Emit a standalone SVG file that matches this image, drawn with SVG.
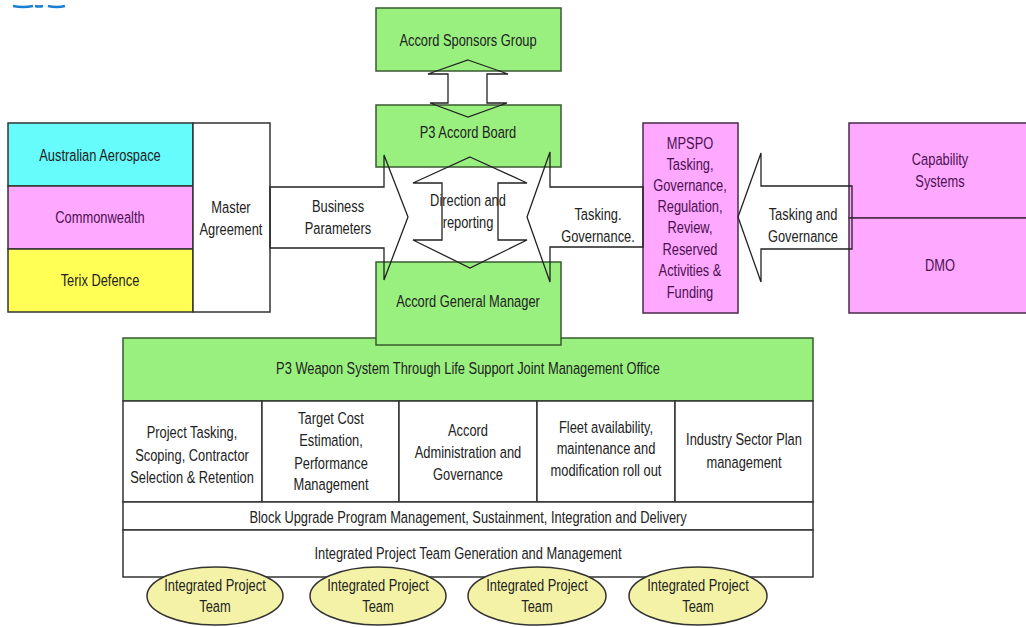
<svg xmlns="http://www.w3.org/2000/svg" width="1026" height="627" viewBox="0 0 1026 627">
<style>
.t{font-family:"Liberation Sans",Arial,sans-serif;font-size:16.5px;fill:#222;text-anchor:middle;transform-box:fill-box;transform-origin:center;transform:scaleX(0.78)}
.g{fill:#99f07f;stroke:#3a5a30;stroke-width:1.5}
.w{fill:#fff;stroke:#333;stroke-width:1.5}
.p{fill:#ffa8ff;stroke:#4a2a4a;stroke-width:1.5}
.pt{fill:#4a1050}
.ar{fill:none;stroke:#222;stroke-width:1.3;stroke-linejoin:miter}
.e{fill:#f4f2a6;stroke:#333;stroke-width:1.5}
</style>
<rect width="1026" height="627" fill="#fff"/>
<path d="M13 6 Q23 8 33 6 M35 6 Q39 7 43 6 M48 6 Q57 8 65 6" fill="none" stroke="#1a7fd0" stroke-width="2.5"/>

<g id="sponsors"><rect class="g" x="376" y="8" width="185" height="63"/><text class="t" x="468" y="46">Accord Sponsors Group</text></g>
<g id="board"><rect class="g" x="376" y="105" width="185" height="62"/><text class="t" x="468" y="138">P3 Accord Board</text></g>

<g id="australian"><rect x="8" y="123" width="185" height="63" fill="#66fcfc" stroke="#333" stroke-width="1.5"/><text class="t" x="100" y="161" fill="#1a3040">Australian Aerospace</text></g>
<g id="commonwealth"><rect x="8" y="186" width="185" height="63" fill="#ffa8ff" stroke="#333" stroke-width="1.5"/><text class="t pt" x="100" y="223">Commonwealth</text></g>
<g id="terix"><rect x="8" y="249" width="185" height="63" fill="#ffff55" stroke="#333" stroke-width="1.5"/><text class="t" x="100" y="286">Terix Defence</text></g>
<g id="master"><rect class="w" x="193" y="123" width="77" height="189"/><text class="t" x="231" y="213">Master</text><text class="t" x="231" y="235">Agreement</text></g>

<g id="mpspo"><rect class="p" x="643" y="123" width="95" height="190"/>
<text class="t pt" x="690" y="149">MPSPO</text><text class="t pt" x="690" y="170">Tasking,</text><text class="t pt" x="690" y="191">Governance,</text><text class="t pt" x="690" y="212">Regulation,</text><text class="t pt" x="690" y="233">Review,</text><text class="t pt" x="690" y="255">Reserved</text><text class="t pt" x="690" y="276">Activities &amp;</text><text class="t pt" x="690" y="298">Funding</text></g>
<g id="capability"><rect class="p" x="849" y="123" width="180" height="95"/><text class="t pt" x="940" y="165">Capability</text><text class="t pt" x="940" y="187">Systems</text></g>
<g id="dmo"><rect class="p" x="849" y="218" width="180" height="95"/><text class="t pt" x="940" y="271">DMO</text></g>

<g id="jmo"><rect class="g" x="123" y="338" width="690" height="63"/><text class="t" x="468" y="374">P3 Weapon System Through Life Support Joint Management Office</text></g>
<g id="gm"><rect class="g" x="376" y="262" width="185" height="83"/><text class="t" x="468" y="307">Accord General Manager</text></g>

<g id="cell1"><rect class="w" x="123" y="401" width="139" height="101"/><text class="t" x="192" y="438">Project Tasking,</text><text class="t" x="192" y="461">Scoping, Contractor</text><text class="t" x="192" y="483">Selection &amp; Retention</text></g>
<g id="cell2"><rect class="w" x="262" y="401" width="137" height="101"/><text class="t" x="331" y="424">Target Cost</text><text class="t" x="331" y="446">Estimation,</text><text class="t" x="331" y="469">Performance</text><text class="t" x="331" y="490">Management</text></g>
<g id="cell3"><rect class="w" x="399" y="401" width="138" height="101"/><text class="t" x="468" y="436">Accord</text><text class="t" x="468" y="458">Administration and</text><text class="t" x="468" y="480">Governance</text></g>
<g id="cell4"><rect class="w" x="537" y="401" width="138" height="101"/><text class="t" x="606" y="433">Fleet availability,</text><text class="t" x="606" y="454">maintenance and</text><text class="t" x="606" y="476">modification roll out</text></g>
<g id="cell5"><rect class="w" x="675" y="401" width="138" height="101"/><text class="t" x="744" y="445">Industry Sector Plan</text><text class="t" x="744" y="468">management</text></g>
<g id="block"><rect class="w" x="123" y="502" width="690" height="28"/><text class="t" x="468" y="523">Block Upgrade Program Management, Sustainment, Integration and Delivery</text></g>
<g id="iptgen"><rect class="w" x="123" y="530" width="690" height="47"/><text class="t" x="468" y="559">Integrated Project Team Generation and Management</text></g>

<g id="ipt1"><ellipse class="e" cx="215" cy="596" rx="68" ry="29"/><text class="t" x="215" y="591">Integrated Project</text><text class="t" x="215" y="612">Team</text></g>
<g id="ipt2"><ellipse class="e" cx="378" cy="596" rx="68" ry="29"/><text class="t" x="378" y="591">Integrated Project</text><text class="t" x="378" y="612">Team</text></g>
<g id="ipt3"><ellipse class="e" cx="537" cy="596" rx="69" ry="29"/><text class="t" x="537" y="591">Integrated Project</text><text class="t" x="537" y="612">Team</text></g>
<g id="ipt4"><ellipse class="e" cx="698" cy="596" rx="69" ry="29"/><text class="t" x="698" y="591">Integrated Project</text><text class="t" x="698" y="612">Team</text></g>

<g id="connectors">
<polygon class="ar" points="468,60 508,74 487,74 487,103 507,103 468,117 430,103 448,103 448,74 428,74"/>
<polygon class="ar" points="470,157 527,183 498,183 498,240 527,240 470,268 413,240 442,240 442,183 413,183"/>
<polygon class="ar" points="270,187 384,187 384,155 408,217 384,280 384,248 270,248"/>
<polygon class="ar" points="643,187 550,187 550,152 527,217 550,282 550,247 643,247"/>
<polygon class="ar" points="852,186 761,186 761,153 738,217 761,282 761,249 852,249"/>
<text class="t" x="338" y="212">Business</text><text class="t" x="338" y="234">Parameters</text>
<text class="t" x="468" y="206">Direction and</text><text class="t" x="468" y="228">reporting</text>
<text class="t" x="598" y="220">Tasking.</text><text class="t" x="598" y="242">Governance.</text>
<text class="t" x="803" y="220">Tasking and</text><text class="t" x="803" y="242">Governance</text>
</g>
</svg>
